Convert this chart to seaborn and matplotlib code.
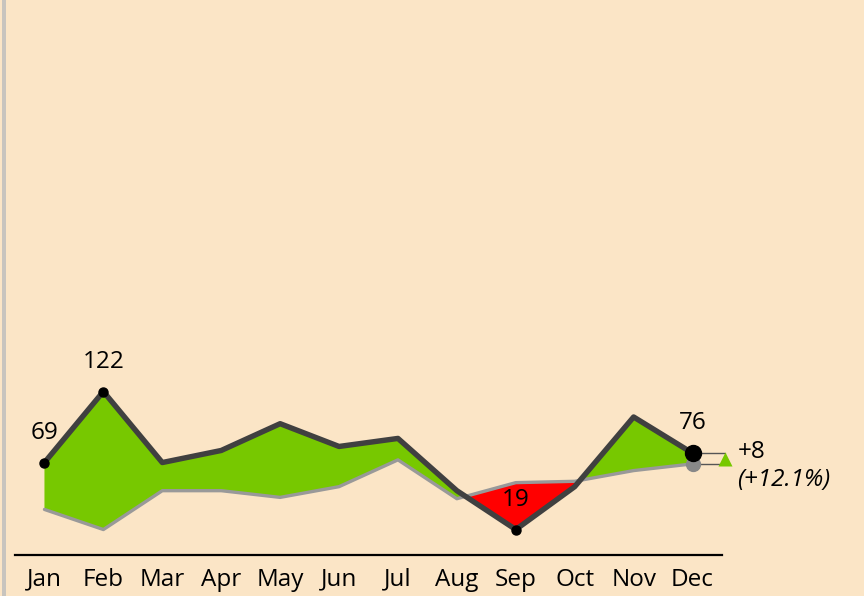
import numpy as np
import pandas as pd
import matplotlib
matplotlib.use("Agg")
import matplotlib.pyplot as plt
from matplotlib.patches import Rectangle
import seaborn as sns

months = ["Jan", "Feb", "Mar", "Apr", "May", "Jun", "Jul", "Aug", "Sep", "Oct", "Nov", "Dec"]
actual = [69, 122, 69, 78, 98, 81, 87, 48, 19, 51, 103, 76]
previous = [34, 19, 48, 48, 43, 51, 71, 42, 54, 55, 63, 68]
labelled = ["Jan", "Feb", "Sep", "Dec"]
delta_text = "+8"
pct_text = "(+12.1%)"

sns.set_theme(style="white")
plt.rcParams['font.family'] = ['Open Sans', 'DejaVu Sans']

bg = "#FBE5C6"
green = "#77C800"
red = "#FF0000"
dark = "#404040"
grey = "#999999"
fs = 17.5

fig = plt.figure(figsize=(8.64, 5.96), dpi=100, facecolor=bg)
ax = fig.add_axes([15/864, 1-555/596, (722-15)/864, (555-10)/596])
ax.set_facecolor(bg)

df = pd.DataFrame({"month": months, "x": np.arange(len(months)), "actual": actual, "previous": previous})
a = df["actual"].to_numpy(float)
p = df["previous"].to_numpy(float)
x = df["x"].to_numpy(float)

ax.fill_between(x, a, p, where=a >= p, interpolate=True, color=green, lw=0, zorder=1)
ax.fill_between(x, a, p, where=a < p, interpolate=True, color=red, lw=0, zorder=1)

sns.lineplot(data=df, x="x", y="previous", color=grey, lw=2.4, ax=ax, zorder=2)
sns.lineplot(data=df, x="x", y="actual", color=dark, lw=3.9, ax=ax, zorder=3)

# labelled points
for m in labelled:
    i = months.index(m)
    big = (i == len(months) - 1)
    ax.plot(x[i], a[i], 'o', color="black", ms=11.5 if big else 6.5, zorder=5, clip_on=False)
    ax.annotate(f"{actual[i]}", (x[i], a[i]), xytext=(0, 21.6), textcoords="offset points",
                ha="center", va="center", fontsize=fs, color="black", zorder=6)

# last-point comparison
i = len(months) - 1
ax.plot(x[i], p[i], 'o', color="#888888", ms=10, zorder=4, clip_on=False)
tri_x = x[i] + 0.55
ax.plot([x[i], tri_x], [a[i], a[i]], color="#555555", lw=1, zorder=3.5, clip_on=False)
ax.plot([x[i], tri_x], [p[i], p[i]], color="#555555", lw=1, zorder=3.5, clip_on=False)
ax.plot(tri_x, (a[i] + p[i]) / 2, '^', color=green, ms=10.5, mec="none", zorder=5, clip_on=False)
ax.annotate(delta_text, (x[i], a[i]), xytext=(32.4, 0.7), textcoords="offset points",
            ha="left", va="center", fontsize=fs, color="black")
ax.annotate(pct_text, (x[i], a[i]), xytext=(32.4, -19.4), textcoords="offset points",
            ha="left", va="center", fontsize=fs, color="black", style="italic")

ax.set_xlim(-0.5, len(months) - 0.5)
ax.set_ylim(0, 545/1.34)
ax.set_xticks(x)
ax.set_xticklabels(months, fontsize=fs, color="black")
ax.tick_params(axis="x", length=0, pad=9)
ax.set_yticks([])
ax.set_xlabel("")
ax.set_ylabel("")
for s in ["top", "left", "right"]:
    ax.spines[s].set_visible(False)
ax.spines["bottom"].set_color("black")
ax.spines["bottom"].set_linewidth(1.6)

fig.patches.append(Rectangle((2/864, 0), 4/864, 1, transform=fig.transFigure,
                             facecolor="#C8C4BE", edgecolor="none"))

fig.savefig("out.png", dpi=100, facecolor=bg)
